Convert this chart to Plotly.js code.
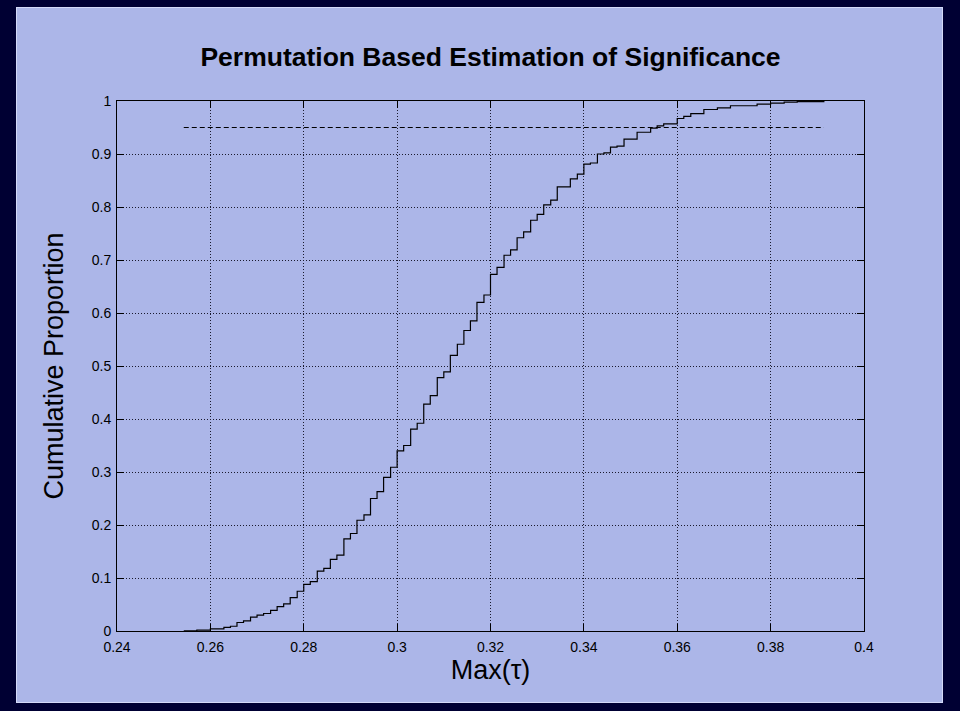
<!DOCTYPE html>
<html>
<head>
<meta charset="utf-8">
<script src="https://cdn.plot.ly/plotly-3.0.1.min.js"></script>
<style>
  html, body { margin: 0; padding: 0; background: #000033; width: 960px; height: 711px; overflow: hidden; }
  #frame { position: absolute; left: 16px; top: 7px; width: 927px; height: 696px; box-sizing: border-box;
           border: 1px solid #d4daf8; background: #acb6e8; }
  #plot { width: 925px; height: 694px; }
</style>
</head>
<body>
<div id="frame"><div id="plot"></div></div>
<script>
// Observed permutation statistic values (Max tau) where the empirical CDF steps up
const maxTau = [
  0.2543, 0.2571, 0.2600, 0.2629, 0.2643, 0.2657, 0.2671, 0.2686, 0.2700, 0.2714,
  0.2729, 0.2743, 0.2757, 0.2771, 0.2786, 0.2800, 0.2814, 0.2829, 0.2843, 0.2857,
  0.2871, 0.2886, 0.2900, 0.2914, 0.2929, 0.2943, 0.2957, 0.2971, 0.2986, 0.3000,
  0.3014, 0.3029, 0.3043, 0.3057, 0.3071, 0.3086, 0.3100, 0.3114, 0.3129, 0.3143,
  0.3157, 0.3171, 0.3186, 0.3200, 0.3214, 0.3229, 0.3243, 0.3257, 0.3271, 0.3286,
  0.3300, 0.3314, 0.3329, 0.3343, 0.3371, 0.3386, 0.3400, 0.3414, 0.3429, 0.3443,
  0.3457, 0.3471, 0.3486, 0.3514, 0.3543, 0.3557, 0.3571, 0.3600, 0.3614, 0.3629,
  0.3657, 0.3686, 0.3714, 0.3771, 0.3800, 0.3829, 0.3857, 0.3914
];
// Cumulative proportion after each step
const cumulativeProportion = [
  0.0005, 0.0015, 0.004, 0.007, 0.009, 0.016, 0.019, 0.026, 0.030, 0.033,
  0.039, 0.046, 0.051, 0.063, 0.075, 0.088, 0.093, 0.113, 0.118, 0.135,
  0.143, 0.174, 0.184, 0.209, 0.219, 0.250, 0.263, 0.290, 0.309, 0.340,
  0.350, 0.381, 0.392, 0.428, 0.444, 0.478, 0.489, 0.520, 0.541, 0.567,
  0.585, 0.620, 0.634, 0.673, 0.686, 0.709, 0.719, 0.742, 0.753, 0.775,
  0.786, 0.804, 0.813, 0.838, 0.853, 0.862, 0.881, 0.883, 0.900, 0.902,
  0.913, 0.915, 0.928, 0.941, 0.949, 0.953, 0.957, 0.967, 0.971, 0.976,
  0.984, 0.987, 0.991, 0.994, 0.996, 0.998, 0.999, 1.000
];
const significanceLevel = 0.95;
const xTickVals = [0.24, 0.26, 0.28, 0.30, 0.32, 0.34, 0.36, 0.38, 0.40];
const xTickText = ["0.24", "0.26", "0.28", "0.3", "0.32", "0.34", "0.36", "0.38", "0.4"];
const yTickVals = [0, 0.1, 0.2, 0.3, 0.4, 0.5, 0.6, 0.7, 0.8, 0.9, 1];
const yTickText = ["0", "0.1", "0.2", "0.3", "0.4", "0.5", "0.6", "0.7", "0.8", "0.9", "1"];

const FONT = "Liberation Sans, Arial, Helvetica, sans-serif";

const traces = [
  {
    x: maxTau,
    y: cumulativeProportion,
    type: "scatter",
    mode: "lines",
    line: { shape: "hv", color: "#000000", width: 1.2 },
    hoverinfo: "x+y",
    showlegend: false
  },
  {
    x: [maxTau[0], maxTau[maxTau.length - 1]],
    y: [significanceLevel, significanceLevel],
    type: "scatter",
    mode: "lines",
    line: { color: "#000000", width: 1, dash: "5px,3px" },
    hoverinfo: "skip",
    showlegend: false
  }
];

const axisCommon = {
  showline: true, linecolor: "#000000", linewidth: 1, mirror: "ticks",
  ticks: "inside", ticklen: 7, tickcolor: "#000000", tickwidth: 1,
  showgrid: true, gridcolor: "#1a1a2e", gridwidth: 1, griddash: "1px,2px",
  zeroline: false, tickfont: { family: FONT, size: 14, color: "#000000" },
  tickmode: "array", fixedrange: true
};

const layout = {
  width: 925, height: 694,
  paper_bgcolor: "#acb6e8",
  plot_bgcolor: "#acb6e8",
  margin: { l: 100, r: 78, t: 93, b: 71 },
  title: {
    text: "<b>Permutation Based Estimation of Significance</b>",
    font: { family: FONT, size: 26.5, color: "#000000" },
    x: 0.5, xanchor: "center", xref: "paper",
    y: 1 - 49 / 694, yref: "container", yanchor: "middle"
  },
  xaxis: Object.assign({}, axisCommon, {
    range: [0.24, 0.40],
    tickvals: xTickVals, ticktext: xTickText,
    ticklabelstandoff: 3,
    title: { text: "Max(τ)", font: { family: FONT, size: 27, color: "#000000" }, standoff: 2 }
  }),
  yaxis: Object.assign({}, axisCommon, {
    range: [0, 1],
    tickvals: yTickVals, ticktext: yTickText,
    ticklabelstandoff: 2,
    title: { text: "Cumulative Proportion", font: { family: FONT, size: 27, color: "#000000" }, standoff: 20 }
  }),
  showlegend: false
};

Plotly.newPlot("plot", traces, layout, { displayModeBar: false, staticPlot: true });
</script>
</body>
</html>
